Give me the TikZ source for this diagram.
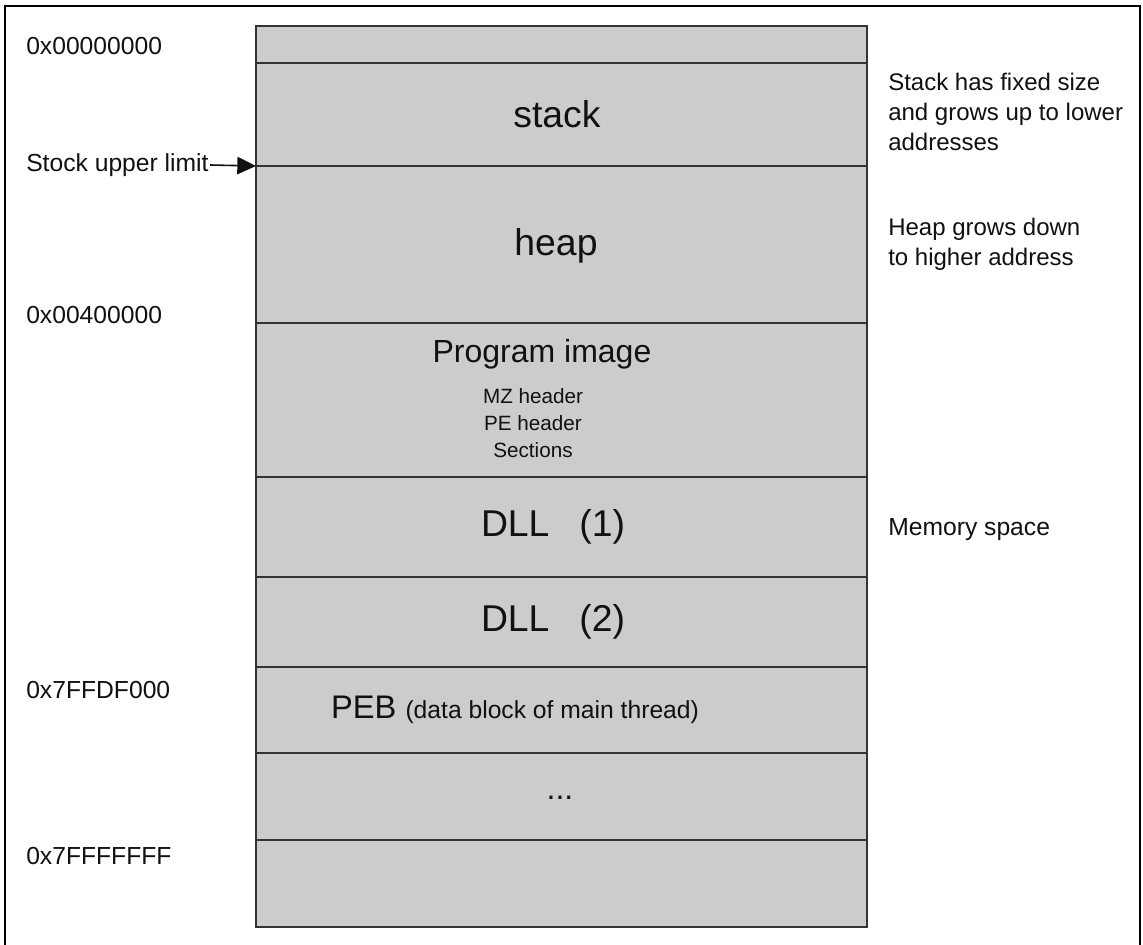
\documentclass[tikz,border=0pt]{standalone}
\usepackage{fontspec}
\setmainfont{Liberation Sans}
\usetikzlibrary{arrows.meta}
\definecolor{cellfill}{HTML}{CCCCCC}
\definecolor{cellline}{HTML}{333333}
\definecolor{ink}{HTML}{111111}
\tikzset{
  cell/.style={draw=cellline, line width=1.4pt, fill=cellfill, minimum width=458.25pt, inner sep=0pt, outer sep=0pt},
  addr/.style={anchor=west, font=\fontsize{18.5}{22}\selectfont, text=ink, inner sep=0pt},
  note/.style={anchor=north west, align=left, font=\fontsize{18}{22.5}\selectfont, text=ink, inner sep=0pt},
  big/.style={font=\fontsize{28}{33}\selectfont, text=ink, inner sep=0pt},
  frameline/.style={draw=black, line width=1.6pt}
}
\begin{document}
\begin{tikzpicture}[x=0.75pt, y=-0.75pt]
\useasboundingbox (0,0) rectangle (1143,945);
\fill[white] (0,0) rectangle (1143,945);
\draw[frameline] (5,945) -- (5,6) -- (1140,6) -- (1140,945);

% memory cells
\node[cell, minimum height=27.75pt] (r0) at (561.5,44.5) {};
\node[cell, minimum height=77.25pt] (stk) at (561.5,114.5) {};
\node[cell, minimum height=117.75pt] (hp) at (561.5,244.5) {};
\node[cell, minimum height=115.5pt] (img) at (561.5,400) {};
\node[cell, minimum height=75pt] (dllA) at (561.5,527) {};
\node[cell, minimum height=67.5pt] (dllB) at (561.5,622) {};
\node[cell, minimum height=64.5pt] (peb) at (561.5,710) {};
\node[cell, minimum height=65.25pt] (dots) at (561.5,796.5) {};
\node[cell, minimum height=65.25pt] (last) at (561.5,883.5) {};

% cell texts
\node[big] (tstk) at (557,114) {stack};
\node[big] (thp) at (556,246) {heap};
\node[font=\fontsize{24}{28}\selectfont, text=ink, inner sep=0pt] (timg) at (542,354) {Program image};
\node[font=\fontsize{15.5}{20.25}\selectfont, text=ink, align=center, inner sep=0pt] (tsub) at (533,423) {MZ header\\PE header\\Sections};
\node[big] (tdllA) at (553,527) {DLL\hspace{0.8em}(1)};
\node[big] (tdllB) at (553,622) {DLL\hspace{0.8em}(2)};
\node[text=ink, inner sep=0pt] (tpeb) at (515,710) {\fontsize{24.5}{28}\selectfont PEB \fontsize{18.5}{22}\selectfont(data block of main thread)};
\node[font=\fontsize{24}{28}\selectfont, text=ink, inner sep=0pt] (tdots) at (560,798) {...};

% addresses
\node[addr] (a0) at (26,46) {0x00000000};
\node[addr] (lim) at (26,165) {Stock upper limit};
\node[addr] (a1) at (26,315) {0x00400000};
\node[addr] (a2) at (26,690) {0x7FFDF000};
\node[addr] (a3) at (26,856) {0x7FFFFFFF};
\draw[line width=1.2pt, ink, -{Triangle[length=14pt,width=13pt]}] ([xshift=1pt]lim.east) -- (hp.north west);

% notes
\node[note] (n1) at (888,73) {Stack has fixed size\\and grows up to lower\\addresses};
\node[note] (n2) at (888,218) {Heap grows down\\to higher address};
\node[addr] (n3) at (888,530) {Memory space};
\end{tikzpicture}
\end{document}
